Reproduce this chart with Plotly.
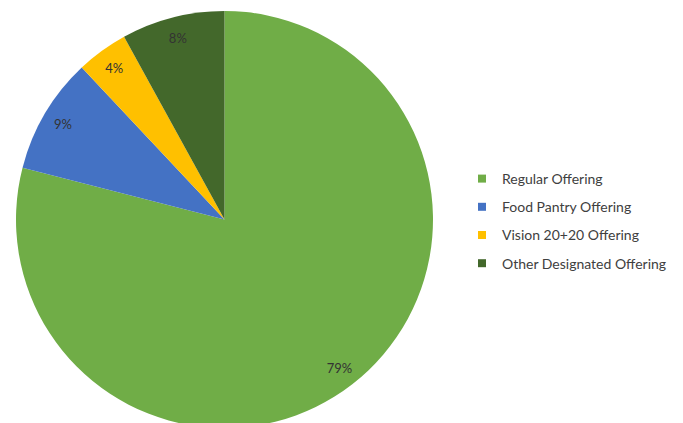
import plotly.graph_objects as go

labels = ["Regular Offering", "Food Pantry Offering", "Vision 20+20 Offering", "Other Designated Offering"]
values = [79, 9, 4, 8]
colors = ["#70AD47", "#4472C4", "#FFC000", "#43682B"]

W, H = 683, 423
OFF = 8  # page body margin
R = 208.5
CX, CY = 224.5 - OFF, 219.5 - OFF
dom_x = [(CX - R) / W, (CX + R) / W]
dom_y = [(H - CY - R) / H, (H - CY + R) / H]

fig = go.Figure()
# main pie
fig.add_trace(go.Pie(
    labels=labels, values=values, sort=False, direction="clockwise", rotation=0,
    marker=dict(colors=colors, line=dict(width=0)),
    textinfo="none", hoverinfo="skip", showlegend=False,
    domain=dict(x=dom_x, y=dom_y),
))
# transparent ring carrying the percentage labels near the rim
fig.add_trace(go.Pie(
    labels=labels, values=values, sort=False, direction="clockwise", rotation=0,
    hole=0.8,
    marker=dict(colors=["rgba(0,0,0,0)"] * len(labels), line=dict(width=0)),
    texttemplate="%{percent:.0%}", textposition="inside",
    insidetextorientation="horizontal",
    insidetextfont=dict(family="Lato", size=13, color="#333333"),
    hoverinfo="skip", showlegend=False,
    domain=dict(x=dom_x, y=dom_y),
))
# legend entries
for lab, col in zip(labels, colors):
    fig.add_trace(go.Scatter(
        x=[None], y=[None], mode="markers", name=lab, legendgroup=lab,
        marker=dict(symbol="square", size=8, color=col),
        hoverinfo="skip",
    ))

fig.update_layout(
    width=W, height=H,
    margin=dict(l=0, r=0, t=0, b=0, autoexpand=False),
    paper_bgcolor="white", plot_bgcolor="white",
    xaxis=dict(visible=False), yaxis=dict(visible=False),
    font=dict(family="Lato", size=13, color="#404040"),
    legend=dict(
        x=(502 - OFF - 40) / W, xanchor="left",
        y=1 - 155 / H, yanchor="top",
        tracegroupgap=7, traceorder="grouped",
        font=dict(family="Lato", size=14, color="#404040"),
        bgcolor="rgba(0,0,0,0)",
    ),
    shapes=[dict(type="line", xref="paper", yref="paper",
                 x0=(678.5 - OFF) / W, x1=(678.5 - OFF) / W, y0=0, y1=1,
                 line=dict(color="#D9D9D9", width=1))],
)

fig.write_html("out.html")
